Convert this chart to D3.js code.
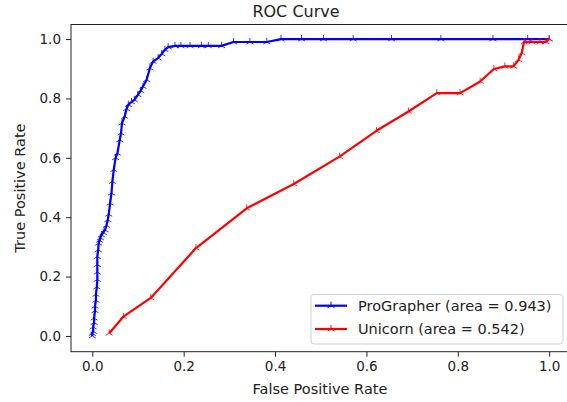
<!DOCTYPE html>
<html lang="en">
<head>
<meta charset="utf-8">
<title>ROC Curve</title>
<script src="https://cdn.jsdelivr.net/npm/d3@7"></script>
<style>
  body { margin: 0; background: #fff; }
  text { font-family: "DejaVu Sans", sans-serif; fill: #222; }
</style>
</head>
<body>
<script>
// ProGrapher curve (fpr, tpr)
var proFpr = [0.000,0.000,0.002,0.002,0.004,0.004,0.006,0.006,0.008,0.008,0.010,0.011,0.011,0.011,0.011,0.013,0.014,0.016,0.018,0.020,0.024,0.028,0.031,0.034,0.036,0.039,0.042,0.044,0.047,0.051,0.055,0.060,0.063,0.065,0.071,0.075,0.079,0.086,0.092,0.100,0.106,0.111,0.119,0.126,0.133,0.144,0.152,0.159,0.166,0.181,0.194,0.214,0.239,0.254,0.283,0.309,0.345,0.382,0.413,0.458,0.506,0.571,0.655,0.763,0.877,0.953,1.000];
var proTpr = [0.000,0.008,0.015,0.030,0.045,0.060,0.085,0.100,0.120,0.140,0.165,0.190,0.215,0.240,0.267,0.290,0.312,0.322,0.330,0.340,0.348,0.357,0.372,0.391,0.410,0.447,0.481,0.520,0.560,0.600,0.615,0.660,0.683,0.717,0.739,0.765,0.779,0.788,0.795,0.812,0.826,0.840,0.863,0.902,0.924,0.936,0.950,0.964,0.973,0.977,0.977,0.977,0.977,0.977,0.977,0.990,0.990,0.990,1.000,1.000,1.000,1.000,1.000,1.000,1.000,1.000,1.000];
// Unicorn curve
var uniFpr = [0.037,0.068,0.128,0.227,0.338,0.441,0.541,0.622,0.692,0.754,0.805,0.849,0.879,0.903,0.922,0.933,0.940,0.945,0.962,0.980,0.993,1.000];
var uniTpr = [0.009,0.065,0.128,0.296,0.430,0.512,0.604,0.691,0.756,0.818,0.818,0.857,0.899,0.908,0.908,0.930,0.953,0.990,0.990,0.990,0.990,1.000];

var xTicks = [0.0, 0.2, 0.4, 0.6, 0.8, 1.0];
var yTicks = [0.0, 0.2, 0.4, 0.6, 0.8, 1.0];
var seriesNames = ["ProGrapher (area = 0.943)", "Unicorn (area = 0.542)"];
var seriesColors = ["#0000ff", "#ff0000"];

var W = 567, H = 402;
var pLeft = 71, pRight = 572, pTop = 24.5, pBottom = 351.7;

var svg = d3.select("body").append("svg").attr("width", W).attr("height", H);

var x = d3.scaleLinear().domain([-0.0466, 1.05]).range([pLeft, pRight]);
var y = d3.scaleLinear().domain([-0.053, 1.049]).range([pBottom, pTop]);

// axes
svg.append("g")
  .attr("transform", "translate(0," + pBottom + ")")
  .call(d3.axisBottom(x).tickValues(xTicks).tickFormat(d3.format(".1f")).tickSize(5).tickPadding(5))
  .call(function(g) {
    g.select(".domain").remove();
    g.selectAll("line").attr("stroke", "#222");
    g.selectAll("text").style("font-size", "13.5px").attr("fill", "#222");
  });
svg.append("g")
  .attr("transform", "translate(" + pLeft + ",0)")
  .call(d3.axisLeft(y).tickValues(yTicks).tickFormat(d3.format(".1f")).tickSize(5).tickPadding(5))
  .call(function(g) {
    g.select(".domain").remove();
    g.selectAll("line").attr("stroke", "#222");
    g.selectAll("text").style("font-size", "13.5px").attr("fill", "#222");
  });

// frame
svg.append("rect").attr("x", pLeft).attr("y", pTop)
  .attr("width", pRight - pLeft).attr("height", pBottom - pTop)
  .attr("fill", "none").attr("stroke", "#222").attr("stroke-width", 1);

function triUp(s) {
  var a = s * 0.866, b = s * 0.5;
  return "M0,0L0," + (-s) + "M0,0L" + (-a) + "," + b + "M0,0L" + a + "," + b;
}

function drawSeries(fpr, tpr, color) {
  var pts = fpr.map(function(d, i) { return [d, tpr[i]]; });
  var line = d3.line().x(function(d) { return x(d[0]); }).y(function(d) { return y(d[1]); });
  svg.append("path").datum(pts)
    .attr("d", line).attr("fill", "none")
    .attr("stroke", color).attr("stroke-width", 2.2).attr("stroke-linejoin", "round");
  svg.append("g").selectAll("path").data(pts).enter().append("path")
    .attr("transform", function(d) { return "translate(" + x(d[0]) + "," + y(d[1]) + ")"; })
    .attr("d", triUp(4))
    .attr("stroke", color).attr("stroke-width", 1).attr("fill", "none").attr("opacity", 0.8);
}
drawSeries(proFpr, proTpr, seriesColors[0]);
drawSeries(uniFpr, uniTpr, seriesColors[1]);

// title and labels
svg.append("text").attr("x", 296).attr("y", 17).attr("text-anchor", "middle")
  .style("font-size", "16px").text("ROC Curve");
svg.append("text").attr("x", 320).attr("y", 394).attr("text-anchor", "middle")
  .style("font-size", "14.5px").text("False Positive Rate");
svg.append("text").attr("transform", "translate(25," + ((pTop + pBottom) / 2) + ") rotate(-90)")
  .attr("text-anchor", "middle").style("font-size", "14.5px").text("True Positive Rate");

// legend
var lg = svg.append("g");
lg.append("rect").attr("x", 311).attr("y", 294.5).attr("width", 252).attr("height", 49.5)
  .attr("rx", 3).attr("fill", "#fff").attr("fill-opacity", 0.8)
  .attr("stroke", "#d0d0d0").attr("stroke-width", 1);
seriesNames.forEach(function(name, i) {
  var ly = 305.7 + i * 23.3;
  lg.append("line").attr("x1", 315).attr("x2", 347).attr("y1", ly).attr("y2", ly)
    .attr("stroke", seriesColors[i]).attr("stroke-width", 2.2);
  lg.append("path").attr("transform", "translate(331," + ly + ")").attr("d", triUp(4))
    .attr("stroke", seriesColors[i]).attr("stroke-width", 1).attr("fill", "none");
  lg.append("text").attr("x", 358).attr("y", ly + 5).style("font-size", "14.5px").text(name);
});
</script>
</body>
</html>
